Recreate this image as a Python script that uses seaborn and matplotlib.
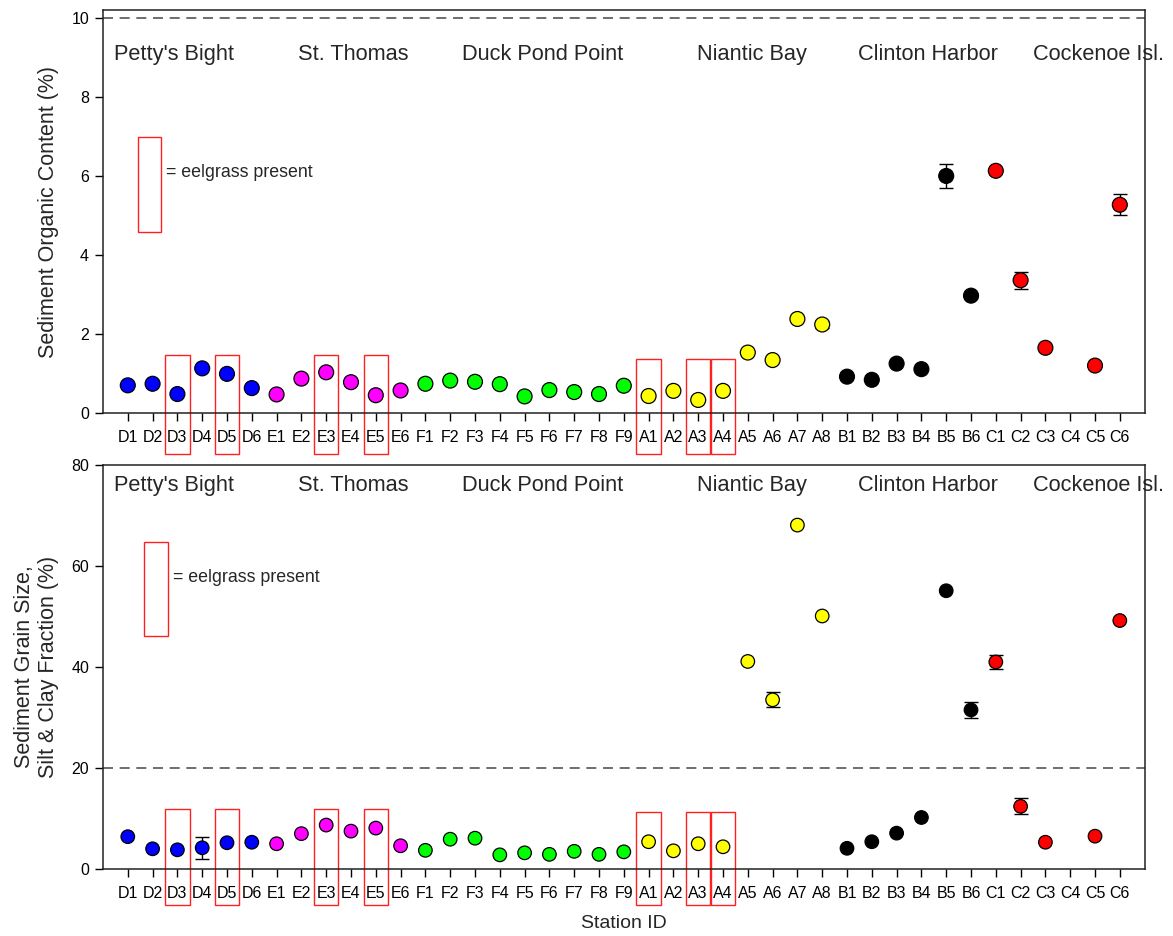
import numpy as np
import pandas as pd
import matplotlib
matplotlib.use("Agg")
import matplotlib.pyplot as plt
from matplotlib.patches import Rectangle
import seaborn as sns

# station ids, grouped by site
stations = ["D1", "D2", "D3", "D4", "D5", "D6",
            "E1", "E2", "E3", "E4", "E5", "E6",
            "F1", "F2", "F3", "F4", "F5", "F6", "F7", "F8", "F9",
            "A1", "A2", "A3", "A4", "A5", "A6", "A7", "A8",
            "B1", "B2", "B3", "B4", "B5", "B6",
            "C1", "C2", "C3", "C4", "C5", "C6"]
site_colors = {"D": "#0000FF", "E": "#FF00FF", "F": "#00FF00",
               "A": "#FFFF00", "B": "#000000", "C": "#FF0000"}

# sediment organic content (%)
organic = [0.70, 0.74, 0.48, 1.13, 0.99, 0.63,
           0.47, 0.87, 1.03, 0.78, 0.45, 0.57,
           0.74, 0.82, 0.79, 0.73, 0.42, 0.58, 0.53, 0.48, 0.69,
           0.43, 0.56, 0.33, 0.56, 1.53, 1.34, 2.38, 2.24,
           0.92, 0.84, 1.25, 1.11, 6.00, 2.97,
           6.13, 3.36, 1.65, np.nan, 1.20, 5.27]
organic_err = [0, 0, 0, 0, 0, 0,
               0, 0, 0, 0, 0, 0,
               0, 0, 0, 0, 0, 0.06, 0, 0, 0,
               0, 0, 0, 0, 0, 0, 0, 0.08,
               0, 0, 0, 0, 0.30, 0.06,
               0, 0.21, 0, 0, 0, 0.27]

# silt & clay fraction (%)
siltclay = [6.4, 4.0, 3.8, 4.2, 5.2, 5.3,
            5.0, 7.0, 8.7, 7.5, 8.1, 4.6,
            3.7, 5.9, 6.1, 2.8, 3.2, 2.9, 3.5, 2.9, 3.4,
            5.4, 3.6, 5.0, 4.4, 41.1, 33.5, 68.1, 50.1,
            4.1, 5.4, 7.1, 10.2, 55.1, 31.5,
            41.0, 12.4, 5.3, np.nan, 6.5, 49.2]
siltclay_err = [0, 0, 0, 2.2, 0, 0,
                0, 0, 0, 0, 0, 0,
                0, 0, 0, 0, 0, 0, 0, 0, 0,
                0, 0, 0, 0, 0, 1.5, 0, 0,
                0, 0, 0, 0, 0, 1.5,
                1.3, 1.6, 0, 0, 0, 0]

eelgrass = ["D3", "D5", "E3", "E5", "A1", "A3", "A4"]
site_names = ["Petty's Bight", "St. Thomas", "Duck Pond Point",
              "Niantic Bay", "Clinton Harbor", "Cockenoe Isl."]
site_name_x = [-0.56, 6.85, 13.47, 22.94, 29.44, 36.5]

df = pd.DataFrame({"station": stations,
                   "pos": np.arange(len(stations)),
                   "site": [s[0] for s in stations],
                   "organic": organic, "organic_err": organic_err,
                   "siltclay": siltclay, "siltclay_err": siltclay_err})

sns.set_style("ticks")
plt.rcParams["font.family"] = ["Liberation Sans", "DejaVu Sans"]

fig = plt.figure(figsize=(11.73, 9.36), dpi=100)
ax1 = fig.add_axes([0.0878, 1 - 413 / 936, 0.888, 403 / 936])
ax2 = fig.add_axes([0.0878, 1 - 869 / 936, 0.888, 404 / 936])


def draw_panel(ax, col, ylim, yticks, ref, label, msize, box_tops, box_bot,
               leg_box, leg_text, name_y):
    d = df.dropna(subset=[col])
    e = d[d[col + "_err"] > 0]
    ax.errorbar(e["pos"], e[col], yerr=e[col + "_err"], fmt="none",
                ecolor="black", elinewidth=1, capsize=5, capthick=1, zorder=2)
    sns.scatterplot(data=d, x="pos", y=col, hue="site", palette=site_colors,
                    s=msize, edgecolor="black", linewidth=0.9, legend=False,
                    ax=ax, zorder=3, clip_on=False)
    ax.axhline(ref, color="#555555", lw=1.2, ls=(0, (6, 4)), zorder=1)
    ax.set_xlim(-1, len(stations))
    ax.set_ylim(*ylim)
    ax.set_yticks(yticks)
    ax.set_xticks(df["pos"])
    ax.set_xticklabels(stations)
    ax.tick_params(axis="both", direction="out", length=6, width=1,
                   labelsize=11.5, colors="black", pad=4)
    ax.tick_params(axis="x", pad=6)
    for sp in ax.spines.values():
        sp.set_visible(True)
        sp.set_linewidth(1.1)
        sp.set_color("#222222")
        sp.set_zorder(5)
    ax.set_ylabel(label, fontsize=15.5, labelpad=9)
    ax.set_xlabel("")
    # eelgrass boxes around stations
    for st in eelgrass:
        i = stations.index(st)
        top = box_tops[0] if st[0] in "DE" else box_tops[1]
        ax.add_patch(Rectangle((i - 0.49, box_bot), 0.98, top - box_bot,
                               fill=False, edgecolor="#FF2020", lw=1,
                               clip_on=False, zorder=4))
    x0, x1, y0, y1 = leg_box
    ax.add_patch(Rectangle((x0, y0), x1 - x0, y1 - y0, fill=False,
                           edgecolor="#FF2020", lw=1, zorder=4))
    ax.text(leg_text[0], leg_text[1], "= eelgrass present", fontsize=12.8,
            va="center", ha="left")
    for name, nx in zip(site_names, site_name_x):
        ax.text(nx, name_y, name, fontsize=15.7, va="center", ha="left",
                clip_on=False, zorder=2)


draw_panel(ax1, "organic", (0, 10.2), [0, 2, 4, 6, 8, 10], 10,
           "Sediment Organic Content (%)", 115, (1.47, 1.37), -1.03,
           (0.40, 1.33, 4.58, 6.99), (1.53, 6.08), 9.08)
draw_panel(ax2, "siltclay", (0, 80), [0, 20, 40, 60, 80], 20,
           "Sediment Grain Size,\nSilt & Clay Fraction (%)", 95,
           (11.9, 11.3), -7.1,
           (0.65, 1.61, 46.1, 64.75), (1.81, 57.8), 75.9)
ax2.set_xlabel("Station ID", fontsize=14, labelpad=10)

fig.savefig("out.png", dpi=100)
